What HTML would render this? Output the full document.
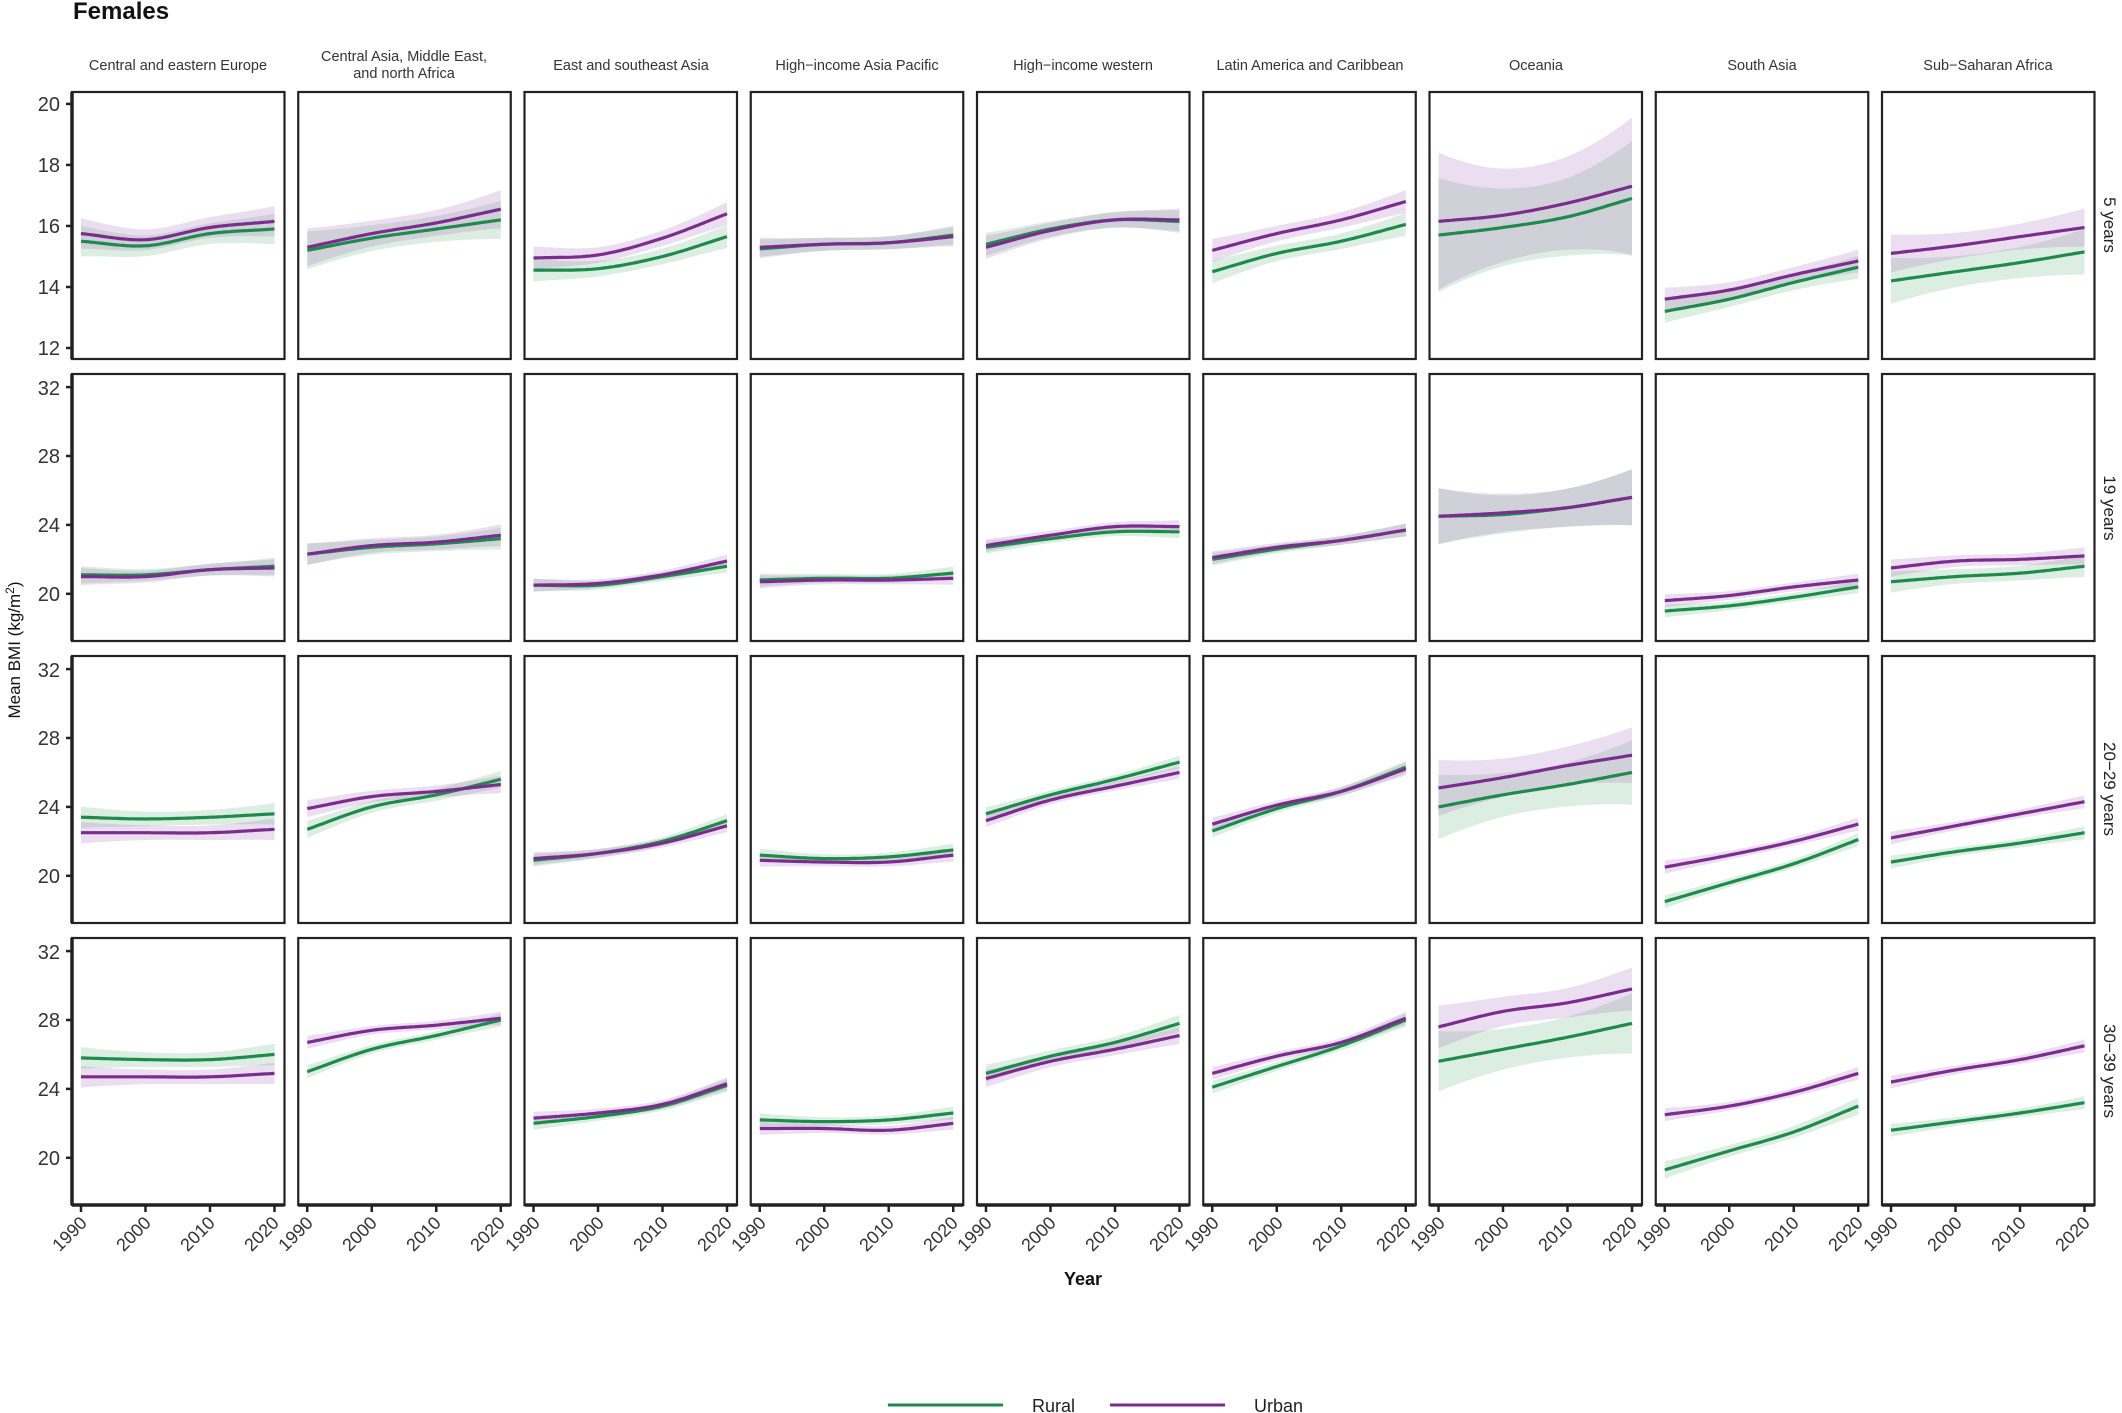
<!DOCTYPE html>
<html><head><meta charset="utf-8"><style>
html,body{margin:0;padding:0;background:#fff;}
svg{display:block;font-family:"Liberation Sans",Arial,sans-serif;}
</style></head><body>
<svg id="s" width="2122" height="1413" viewBox="0 0 2122 1413" xmlns="http://www.w3.org/2000/svg">
<rect width="2122" height="1413" fill="#fff"/>
<text x="73" y="19" font-size="24" font-weight="bold" fill="#111">Females</text>
<g font-size="14.5" fill="#333" text-anchor="middle">
<text x="178" y="70">Central and eastern Europe</text>
<text x="404" y="61">Central Asia, Middle East,</text>
<text x="404" y="78">and north Africa</text>
<text x="631" y="70">East and southeast Asia</text>
<text x="857" y="70">High−income Asia Pacific</text>
<text x="1083" y="70">High−income western</text>
<text x="1310" y="70">Latin America and Caribbean</text>
<text x="1536" y="70">Oceania</text>
<text x="1762" y="70">South Asia</text>
<text x="1988" y="70">Sub−Saharan Africa</text>
</g>
<g font-size="17" fill="#222" text-anchor="middle">
<text transform="translate(2104,225) rotate(90)">5 years</text>
<text transform="translate(2104,508) rotate(90)">19 years</text>
<text transform="translate(2104,789) rotate(90)">20−29 years</text>
<text transform="translate(2104,1071) rotate(90)">30−39 years</text>
</g>
<text transform="translate(20,650) rotate(-90)" font-size="17" fill="#111" text-anchor="middle">Mean BMI (kg/m<tspan dy="-6" font-size="12">2</tspan><tspan dy="6">)</tspan></text>
<text x="1083" y="1285" font-size="18" font-weight="bold" fill="#111" text-anchor="middle">Year</text>
<g font-size="20" fill="#333" text-anchor="end">
<text x="60" y="111">20</text><text x="60" y="172">18</text><text x="60" y="233">16</text><text x="60" y="294">14</text><text x="60" y="355">12</text>
<text x="60" y="395">32</text><text x="60" y="463">28</text><text x="60" y="532">24</text><text x="60" y="601">20</text>
<text x="60" y="677">32</text><text x="60" y="745">28</text><text x="60" y="814">24</text><text x="60" y="883">20</text>
<text x="60" y="959">32</text><text x="60" y="1027">28</text><text x="60" y="1096">24</text><text x="60" y="1165">20</text>
</g>
<g id="xl" font-size="18" fill="#333" text-anchor="end">
<text transform="translate(88,1224) rotate(-45)">1990</text><text transform="translate(152,1224) rotate(-45)">2000</text><text transform="translate(216,1224) rotate(-45)">2010</text><text transform="translate(280,1224) rotate(-45)">2020</text>
<text transform="translate(314,1224) rotate(-45)">1990</text><text transform="translate(378,1224) rotate(-45)">2000</text><text transform="translate(442,1224) rotate(-45)">2010</text><text transform="translate(506,1224) rotate(-45)">2020</text>
<text transform="translate(541,1224) rotate(-45)">1990</text><text transform="translate(605,1224) rotate(-45)">2000</text><text transform="translate(669,1224) rotate(-45)">2010</text><text transform="translate(733,1224) rotate(-45)">2020</text>
<text transform="translate(767,1224) rotate(-45)">1990</text><text transform="translate(831,1224) rotate(-45)">2000</text><text transform="translate(895,1224) rotate(-45)">2010</text><text transform="translate(959,1224) rotate(-45)">2020</text>
<text transform="translate(993,1224) rotate(-45)">1990</text><text transform="translate(1057,1224) rotate(-45)">2000</text><text transform="translate(1121,1224) rotate(-45)">2010</text><text transform="translate(1185,1224) rotate(-45)">2020</text>
<text transform="translate(1220,1224) rotate(-45)">1990</text><text transform="translate(1284,1224) rotate(-45)">2000</text><text transform="translate(1348,1224) rotate(-45)">2010</text><text transform="translate(1412,1224) rotate(-45)">2020</text>
<text transform="translate(1446,1224) rotate(-45)">1990</text><text transform="translate(1510,1224) rotate(-45)">2000</text><text transform="translate(1574,1224) rotate(-45)">2010</text><text transform="translate(1638,1224) rotate(-45)">2020</text>
<text transform="translate(1672,1224) rotate(-45)">1990</text><text transform="translate(1736,1224) rotate(-45)">2000</text><text transform="translate(1800,1224) rotate(-45)">2010</text><text transform="translate(1864,1224) rotate(-45)">2020</text>
<text transform="translate(1899,1224) rotate(-45)">1990</text><text transform="translate(1963,1224) rotate(-45)">2000</text><text transform="translate(2027,1224) rotate(-45)">2010</text><text transform="translate(2091,1224) rotate(-45)">2020</text>
</g>
<line x1="888" y1="1405" x2="1003" y2="1405" stroke="#1e8a4c" stroke-width="3"/>
<text x="1032" y="1412" font-size="18" fill="#222">Rural</text>
<line x1="1110" y1="1405" x2="1225" y2="1405" stroke="#7b2d8e" stroke-width="3"/>
<text x="1254" y="1412" font-size="18" fill="#222">Urban</text>
<g id="g"></g>
</svg>
<script>
(function(){
var D=[
[[[15.5,15.35,15.75,15.9,.4],[15.75,15.55,15.95,16.15,.4]],
 [[15.2,15.6,15.9,16.2,.5],[15.3,15.75,16.1,16.55,.5]],
 [[14.55,14.6,15.0,15.65,.3],[14.95,15.05,15.6,16.4,.3]],
 [[15.25,15.4,15.45,15.7,.25],[15.3,15.4,15.45,15.65,.25]],
 [[15.4,15.9,16.2,16.15,.3],[15.3,15.85,16.2,16.2,.3]],
 [[14.5,15.1,15.5,16.05,.3],[15.2,15.75,16.2,16.8,.3]],
 [[15.7,15.95,16.3,16.9,1.5],[16.15,16.35,16.75,17.3,1.8]],
 [[13.2,13.6,14.15,14.65,.3],[13.6,13.9,14.4,14.85,.3]],
 [[14.2,14.5,14.8,15.15,.6],[15.1,15.35,15.65,15.95,.5]]],
[[[21.1,21.1,21.4,21.6,.4],[21.0,21.0,21.4,21.5,.4]],
 [[22.3,22.7,22.9,23.2,.5],[22.3,22.8,23.0,23.4,.5]],
 [[20.5,20.5,21.0,21.6,.3],[20.5,20.6,21.1,21.9,.3]],
 [[20.8,20.9,20.9,21.2,.3],[20.7,20.8,20.8,20.9,.3]],
 [[22.7,23.2,23.6,23.6,.3],[22.8,23.4,23.9,23.9,.3]],
 [[22.0,22.6,23.1,23.7,.3],[22.1,22.7,23.1,23.7,.3]],
 [[24.5,24.6,25.0,25.6,1.3],[24.5,24.7,25.0,25.6,1.3]],
 [[19.0,19.3,19.8,20.4,.3],[19.6,19.9,20.4,20.8,.3]],
 [[20.7,21.0,21.2,21.6,.5],[21.5,21.9,22.0,22.2,.4]]],
[[[23.4,23.3,23.4,23.6,.5],[22.5,22.5,22.5,22.7,.5]],
 [[22.7,24.0,24.7,25.6,.4],[23.9,24.6,24.9,25.3,.4]],
 [[20.9,21.3,22.0,23.2,.3],[21.0,21.3,21.9,22.9,.3]],
 [[21.2,21.0,21.1,21.5,.3],[20.9,20.8,20.8,21.2,.3]],
 [[23.6,24.7,25.6,26.6,.3],[23.2,24.4,25.2,26.0,.3]],
 [[22.6,23.9,24.9,26.3,.3],[23.0,24.1,24.9,26.2,.3]],
 [[24.0,24.7,25.3,26.0,1.5],[25.1,25.7,26.4,27.0,1.3]],
 [[18.5,19.6,20.7,22.1,.3],[20.5,21.2,22.0,23.0,.3]],
 [[20.8,21.4,21.9,22.5,.3],[22.2,22.9,23.6,24.3,.3]]],
[[[25.8,25.7,25.7,26.0,.5],[24.7,24.7,24.7,24.9,.5]],
 [[25.0,26.3,27.1,28.0,.3],[26.7,27.4,27.7,28.1,.3]],
 [[22.0,22.4,23.0,24.2,.3],[22.3,22.6,23.1,24.3,.3]],
 [[22.2,22.1,22.2,22.6,.3],[21.7,21.7,21.6,22.0,.3]],
 [[24.9,25.9,26.7,27.8,.4],[24.6,25.6,26.3,27.1,.4]],
 [[24.1,25.3,26.5,28.0,.3],[24.9,25.9,26.7,28.1,.3]],
 [[25.6,26.3,27.0,27.8,1.4],[27.6,28.5,29.0,29.8,1.0]],
 [[19.3,20.4,21.5,23.0,.4],[22.5,23.0,23.8,24.9,.3]],
 [[21.6,22.1,22.6,23.2,.3],[24.4,25.1,25.7,26.5,.3]]]];
var tops=[92,374,656,938],H=267;
var g=document.getElementById('g'),h='';
function interp(v,t){
 var i=Math.min(2,Math.floor(t)),u=t-i;
 var p0=i==0?2*v[0]-v[1]:v[i-1],p1=v[i],p2=v[i+1],p3=i==2?2*v[3]-v[2]:v[i+2];
 return 0.5*((2*p1)+(-p0+p2)*u+(2*p0-5*p1+4*p2-p3)*u*u+(-p0+3*p1-3*p2+p3)*u*u*u);
}
for(var r=0;r<4;r++){
 var tp=tops[r],bt=tp+H;
 var ymin=r==0?11.64:17.26,ymax=r==0?20.39:32.76;
 var Y=function(v){return bt-(v-ymin)/(ymax-ymin)*H;};
 for(var c=0;c<9;c++){
  var L=72+c*226.25,R=L+212.5;
  var x0=L+9,x1=R-10;
  var cols=[['#1e8a4c','rgba(40,150,70,0.16)'],['#7b2d8e','rgba(150,70,180,0.18)']];
  var ser=D[r][c],lns=[];
  for(var s=0;s<2;s++){
   var v=ser[s],b=ser[s][4],up=[],dn=[],ln=[];
   for(var k=0;k<=60;k++){var t=k/20,x=x0+(x1-x0)*k/60,y=interp(v,t);
    var d=(t-1.5)/1.5,bb=b*(0.8+0.45*d*d);
    ln.push(x.toFixed(1)+','+Y(y).toFixed(1));up.push(x.toFixed(1)+','+Y(y+bb).toFixed(1));dn.unshift(x.toFixed(1)+','+Y(y-bb).toFixed(1));}
   h+='<polygon points="'+up.join(' ')+' '+dn.join(' ')+'" fill="'+cols[s][1]+'"/>';
   lns.push(ln);
  }
  for(var s=0;s<2;s++)h+='<polyline points="'+lns[s].join(' ')+'" fill="none" stroke="'+cols[s][0]+'" stroke-width="3.2"/>';
  h+='<rect x="'+L+'" y="'+tp+'" width="'+(R-L)+'" height="'+H+'" fill="none" stroke="#222" stroke-width="2.2"/>';
  if(c==0){h+='<line x1="'+L+'" y1="'+tp+'" x2="'+L+'" y2="'+bt+'" stroke="#222" stroke-width="3.5"/>';
   var tk=r==0?[20,18,16,14,12]:[32,28,24,20];
   for(var q=0;q<tk.length;q++){var yy=Y(tk[q]);h+='<line x1="'+(L-6)+'" y1="'+yy+'" x2="'+L+'" y2="'+yy+'" stroke="#222" stroke-width="2.5"/>';}}
  if(r==3){h+='<line x1="'+L+'" y1="'+bt+'" x2="'+R+'" y2="'+bt+'" stroke="#222" stroke-width="3.5"/>';
   for(var k=0;k<4;k++){var x=x0+(x1-x0)*k/3;h+='<line x1="'+x+'" y1="'+bt+'" x2="'+x+'" y2="'+(bt+7)+'" stroke="#222" stroke-width="2.5"/>';}}
 }
}
g.innerHTML=h;
})();
</script>
</body></html>
